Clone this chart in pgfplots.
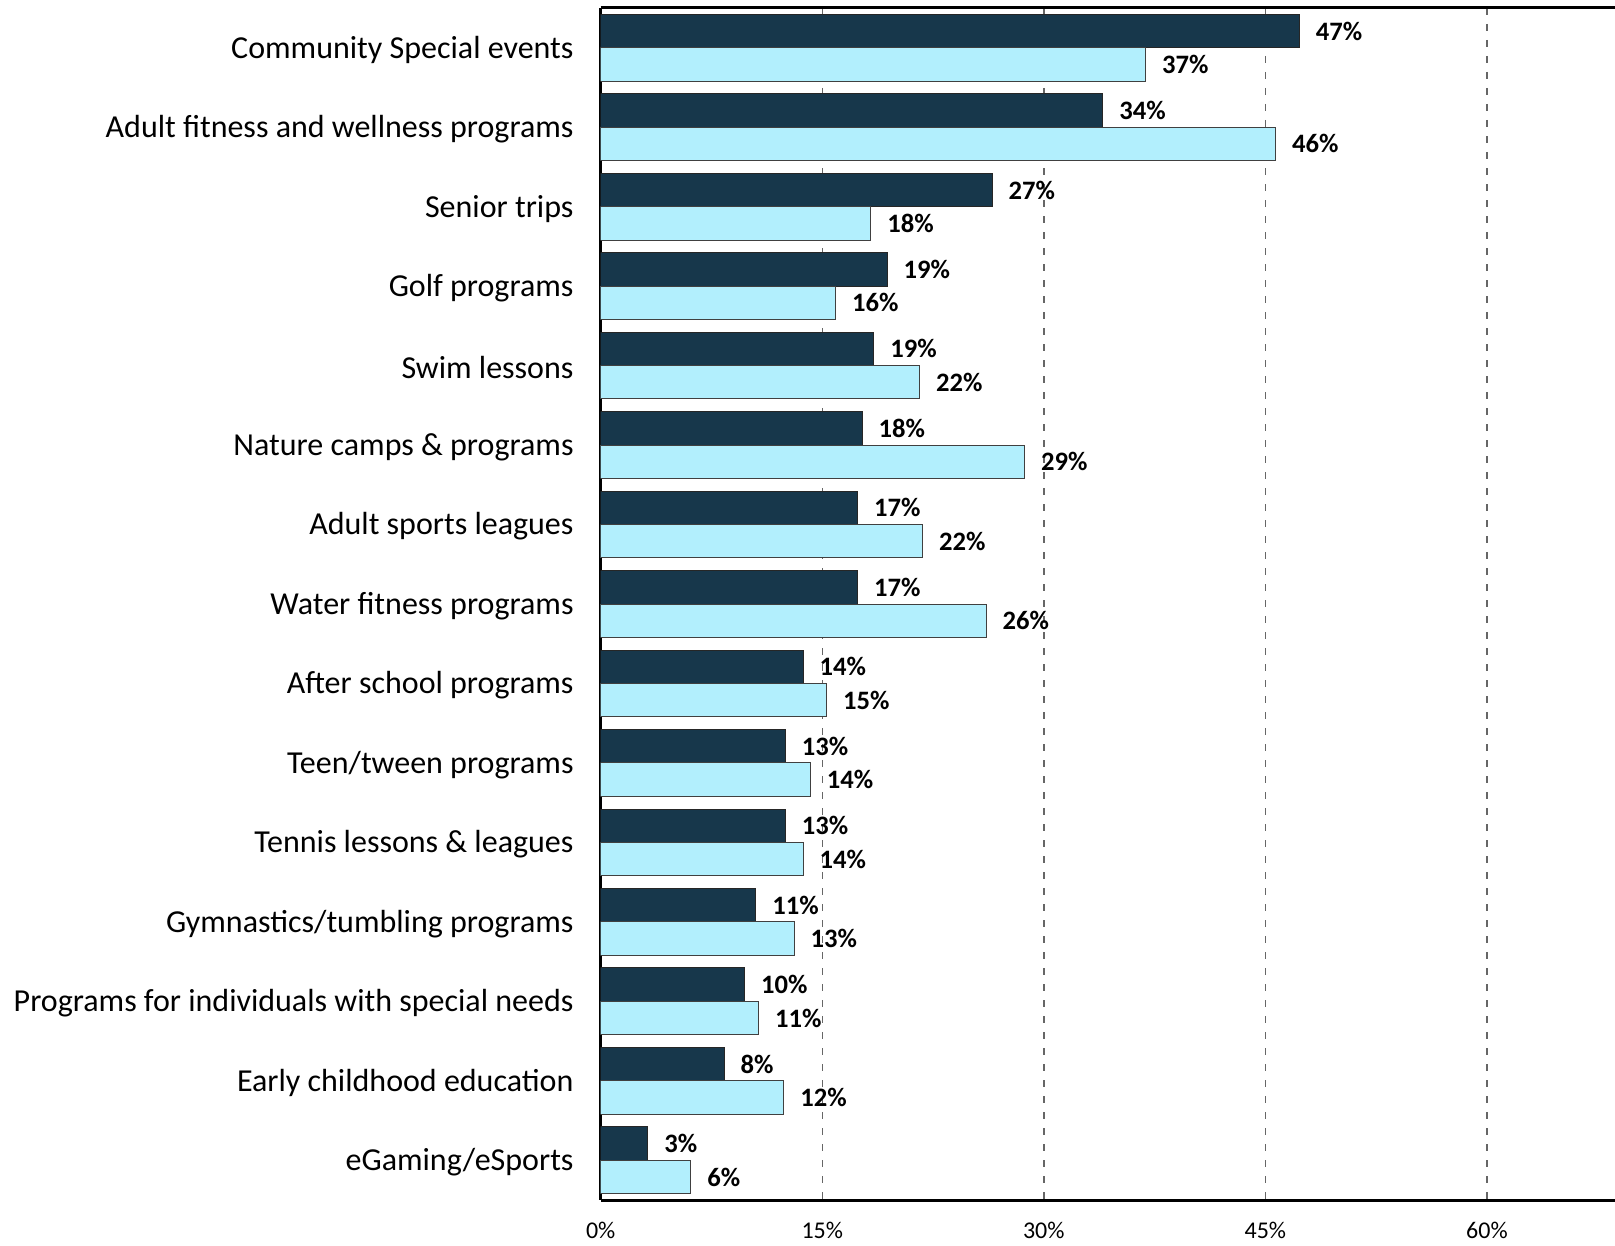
\documentclass[border=0pt]{standalone}
\usepackage{fontspec}
\setmainfont{Carlito}
\usepackage{pgfplots}
\pgfplotsset{compat=1.18}
\definecolor{darkbar}{HTML}{17374B}
\definecolor{lightbar}{HTML}{B2EFFD}

\begin{document}
\begin{tikzpicture}
\begin{axis}[
  name=ax,
  scale only axis,
  width=507.15pt, height=596pt,
  xmin=0, xmax=68.67,
  ymin=-0.5, ymax=14.5,
  y dir=reverse,
  axis x line=box, axis y line=left,
  axis line style={line width=1.5pt, -},
  major tick length=0pt,
  xtick={0,15,30,45,60},
  xticklabel={\pgfmathprintnumber{\tick}\%},
  /pgf/number format/assume math mode=true,
  xticklabel style={font=\fontsize{12}{12}\selectfont, inner sep=0pt, anchor=north, yshift=-11pt},
  xmajorgrids,
  major grid style={black!60, line width=0.7pt, dash pattern=on 3.5pt off 4.5pt},
  ytick={0,...,14},
  yticklabels={
    Community Special events,
    Adult fitness and wellness programs,
    Senior trips,
    Golf programs,
    Swim lessons,
    Nature camps \& programs,
    Adult sports leagues,
    Water fitness programs,
    After school programs,
    Teen/tween programs,
    Tennis lessons \& leagues,
    Gymnastics/tumbling programs,
    Programs for individuals with special needs,
    Early childhood education,
    eGaming/eSports},
  yticklabel style={font=\fontsize{16}{16}\selectfont, anchor=east, inner sep=0pt, xshift=-13.4pt, yshift=-1pt},
  xbar,
  bar width=0.42,
  point meta=explicit symbolic,
  nodes near coords={\pgfplotspointmeta\%},
  every node near coord/.append style={anchor=west, inner sep=0pt, xshift=8pt,
    font=\bfseries\fontsize{13.3}{13.3}\selectfont, text=black},
]
\addplot[fill=darkbar, draw=black!85, line width=0.5pt, bar shift=-0.21] coordinates {
  (47.3,0) [47]
  (34.0,1) [34]
  (26.5,2) [27]
  (19.4,3) [19]
  (18.5,4) [19]
  (17.7,5) [18]
  (17.4,6) [17]
  (17.4,7) [17]
  (13.7,8) [14]
  (12.5,9) [13]
  (12.5,10) [13]
  (10.5,11) [11]
  (9.75,12) [10]
  (8.36,13) [8]
  (3.2,14) [3]
};
\addplot[fill=lightbar, draw=black!75, line width=0.5pt, bar shift=0.21] coordinates {
  (36.9,0) [37]
  (45.7,1) [46]
  (18.3,2) [18]
  (15.9,3) [16]
  (21.6,4) [22]
  (28.7,5) [29]
  (21.8,6) [22]
  (26.1,7) [26]
  (15.3,8) [15]
  (14.2,9) [14]
  (13.7,10) [14]
  (13.1,11) [13]
  (10.7,12) [11]
  (12.4,13) [12]
  (6.1,14) [6]
};
\end{axis}
\pgfresetboundingbox
\path[use as bounding box] ([xshift=-300.35pt,yshift=-23pt]ax.south west) rectangle ([yshift=4pt]ax.north east);
\end{tikzpicture}
\end{document}
